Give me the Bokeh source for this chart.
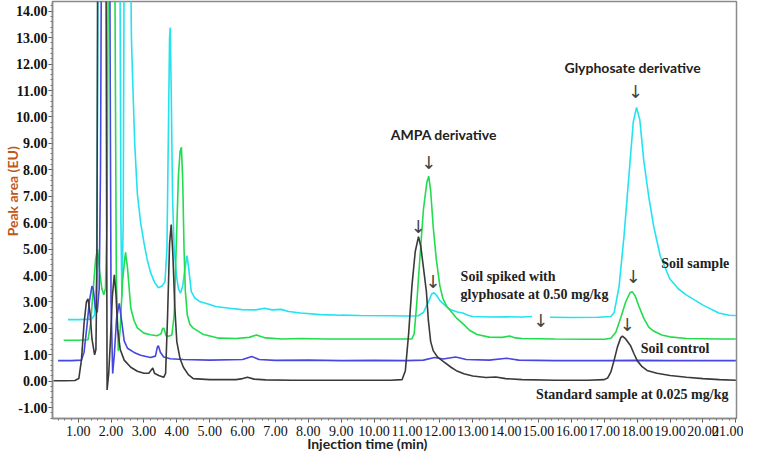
import numpy as np
from bokeh.plotting import figure
from bokeh.models import FixedTicker, Label, Range1d, NumeralTickFormatter
from bokeh.embed import file_html
from bokeh.resources import INLINE

NAN = float("nan")

# ---- Data ----
std_x = [0.25, 0.6, 0.9, 1.02, 1.1, 1.18, 1.25, 1.3, 1.36, 1.42, 1.5, 1.54, 1.57, 1.6, 1.84,
         1.88, 1.93, 1.98, 2.04, 2.1, 2.15, 2.2, 2.28, 2.4, 2.6, 2.8, 3.0, 3.15, 3.22, 3.27, 3.32,
         3.45, 3.6, 3.66, 3.72, 3.78, 3.83, 3.88, 3.94, 4.0, 4.1, 4.2, 4.35, 4.5, 5.0, 5.8, 6.0,
         6.15, 6.35, 6.7, 7.5, 8.5, 9.5, 10.5, 10.85, 10.95, 11.05, 11.15, 11.25, 11.35, 11.42,
         11.5, 11.59, 11.65, 11.72, 11.8, 11.94, 12.1, 12.34, 12.5, 12.73, 13.0, 13.4, 13.7, 14.0,
         14.5, 15.5, 16.5, 17.0, 17.1, 17.2, 17.3, 17.4, 17.5, 17.55, 17.65, 17.8, 17.9, 18.0,
         18.15, 18.3, 18.6, 19.0, 19.5, 20.0, 20.5, 21.0]
std_y = [0.02, 0.02, 0.03, 0.1, 0.8, 2.2, 3.0, 3.12, 2.6, 1.6, 1.0, 1.2, 4.0, 20.0, 20.0,
         -0.33, 0.3, 1.5, 3.2, 4.03, 3.3, 2.0, 1.2, 0.8, 0.53, 0.38, 0.3, 0.3, 0.42, 0.5, 0.3,
         0.22, 0.15, 0.3, 2.5, 5.2, 5.93, 4.8, 2.8, 1.5, 0.85, 0.53, 0.25, 0.1, 0.06, 0.06, 0.1,
         0.15, 0.08, 0.05, 0.04, 0.04, 0.04, 0.04, 0.06, 0.4, 1.8, 3.6, 4.9, 5.47, 5.1,
         4.3, 3.39, 2.3, 1.5, 1.15, 0.9, 0.75, 0.53, 0.4, 0.28, 0.2, 0.14, 0.16, 0.1,
         0.06, 0.04, 0.04, 0.06, 0.12, 0.35, 0.8, 1.3, 1.65, 1.71, 1.6, 1.34, 1.05, 0.78,
         0.55, 0.41, 0.3, 0.22, 0.15, 0.1, 0.06, 0.04]

ctrl_x = [0.39, 0.8, 1.1, 1.18, 1.26, 1.34, 1.42, 1.46, 1.52, 1.58, 1.64, 1.68, 1.72, 1.95,
          2.0, 2.05, 2.1, 2.17, 2.25, 2.32, 2.4, 2.5, 2.7, 2.9, 3.2, 3.35, 3.41, 3.44, 3.5, 3.6,
          3.8, 4.2, 5.0, 6.0, 6.28, 6.5, 7.0, 8.0, 9.0, 10.0, 11.0, 11.5, 11.84, 12.1, 12.48,
          12.8, 13.5, 14.03, 14.4, 15.5, 17.0, 18.0, 19.0, 21.0]
ctrl_y = [0.78, 0.78, 0.8, 1.1, 2.0, 3.0, 3.6, 3.5, 2.8, 2.6, 3.5, 8.0, 20.0, 20.0,
          3.0, 0.29, 1.0, 2.4, 2.95, 2.3, 1.53, 1.25, 1.09, 0.98, 0.9, 0.95, 1.3, 1.34, 1.1, 0.92,
          0.85, 0.82, 0.8, 0.82, 0.94, 0.82, 0.79, 0.8, 0.78, 0.79, 0.78, 0.8, 0.9, 0.84, 0.92,
          0.82, 0.8, 0.87, 0.8, 0.78, 0.78, 0.79, 0.78, 0.78]

spk_x = [0.56, 1.0, 1.3, 1.38, 1.46, 1.53, 1.59, 1.65, 1.72, 1.78, 1.83, 1.88, 1.93, 2.1,
         2.16, 2.22, 2.28, 2.35, 2.44, 2.5, 2.6, 2.7, 2.8, 3.0, 3.2, 3.4, 3.52, 3.57, 3.61,
         3.67, 3.75, 3.85, 3.92, 3.98, 4.05, 4.1, 4.14, 4.18, 4.22, 4.26, 4.32, 4.4, 4.49, 4.79,
         5.28, 5.8, 6.2, 6.42, 6.7, 7.2, 7.8, 8.5, 9.5, 10.5, 11.15, 11.22, 11.3, 11.4, 11.5,
         11.6, 11.66, 11.72, 11.8, 11.89, 12.0, 12.09, 12.2, 12.34, 12.5, 12.73, 12.9, 13.13,
         13.5, 13.9, 14.12, 14.3, 14.5, 15.5, 16.5, 17.0, 17.2, 17.35, 17.5, 17.65, 17.78,
         17.85, 17.95, 18.05, 18.2, 18.35, 18.5, 18.75, 18.99, 19.5, 20.5, 21.0]
spk_y = [1.55, 1.55, 1.57, 2.2, 3.5, 4.6, 5.0, 4.2, 3.5, 3.27, 3.5, 6.0, 20.0, 20.0,
         4.0, 1.15, 2.0, 3.8, 4.88, 4.3, 2.77, 2.3, 2.02, 1.82, 1.76, 1.72, 1.8, 2.0, 2.0,
         1.72, 1.7, 1.75, 2.5, 5.0, 7.8, 8.7, 8.85, 7.6, 5.0, 3.4, 2.5, 2.15, 2.02, 1.78,
         1.63, 1.62, 1.66, 1.75, 1.64, 1.6, 1.62, 1.6, 1.6, 1.6, 1.6, 1.8, 3.0, 4.8, 6.5,
         7.5, 7.76, 7.2, 5.8, 4.63, 3.6, 3.14, 2.85, 2.64, 2.4, 2.14, 1.93, 1.77,
         1.67, 1.66, 1.71, 1.64, 1.62, 1.6, 1.59, 1.59, 1.63, 1.85, 2.4, 3.0, 3.35,
         3.39, 3.2, 2.85, 2.39, 2.05, 1.9, 1.75, 1.68, 1.62, 1.6, 1.6]

soil_x = [0.69, 1.0, 1.4, 1.5, 1.56, 1.58, 1.62, 2.26, 2.3, 2.33, 2.37, 2.41, 2.56, 2.62,
          2.65, 2.72, 2.8, 2.9, 3.0, 3.1, 3.2, 3.32, 3.44, 3.55, 3.64, 3.7, 3.75, 3.78, 3.8,
          3.83, 3.87, 3.92, 3.99, 4.05, 4.11, 4.18, 4.24, 4.31, 4.36, 4.44, 4.55, 4.69, 5.0,
          5.18, 5.6, 5.98, 6.4, 6.67, 6.9, 7.17, 7.4, 7.77, 8.36, 9.0, 9.55, 10.5, 11.0,
          11.34, 11.5, 11.65, 11.75, 11.82, 11.9, 12.0, 12.14, 12.3, 12.53, 12.7, 12.85, 13.0,
          13.5, 14.0, 14.5, 14.8, 14.81, 15.35, 16.0, 16.8, 17.2, 17.3, 17.45, 17.6, 17.75,
          17.88, 17.98, 18.08, 18.2, 18.35, 18.5, 18.7, 18.99, 19.25, 19.49, 19.99, 20.48,
          20.8, 21.0]
soil_y = [2.33, 2.33, 2.35, 2.5, 4.0, 8.0, 20.0, 20.0, 6.0, 3.2, 6.0, 20.0, 20.0, 13.0,
          11.7, 9.0, 7.1, 6.0, 5.25, 4.6, 4.13, 3.75, 3.54, 3.6, 3.76, 5.0, 10.0, 13.0, 13.38,
          11.0, 7.0, 5.0, 4.0, 3.5, 3.33, 3.6, 4.2, 4.75, 4.3, 3.39, 3.15, 3.02, 2.9,
          2.83, 2.76, 2.71, 2.7, 2.76, 2.7, 2.72, 2.64, 2.58, 2.52, 2.5, 2.49, 2.48, 2.47,
          2.48, 2.6, 3.0, 3.3, 3.35, 3.25, 3.05, 2.89, 2.72, 2.62, 2.58, 2.5, 2.45,
          2.43, 2.44, 2.43, 2.45, NAN, 2.42, 2.41, 2.42, 2.45, 2.6, 3.6, 5.5, 7.8,
          9.8, 10.36, 9.9, 8.35, 7.0, 5.87, 4.75, 3.88, 3.5, 3.27, 2.89, 2.58,
          2.5, 2.49]

x_ticks = [1, 2, 3, 4, 5, 6, 7, 8, 9, 10, 11, 12, 13, 14, 15, 16, 17, 18, 19, 20, 21]
y_ticks = [-1, 0, 1, 2, 3, 4, 5, 6, 7, 8, 9, 10, 11, 12, 13, 14]

x_title = "Injection time (min)"
y_title = "Peak area (EU)"

ann_texts = ["Soil sample", "Soil spiked with", "glyphosate at 0.50 mg/kg", "Soil control",
             "Standard sample at 0.025 mg/kg"]
ann_x = [18.73, 12.63, 12.63, 18.11, 14.92]
ann_y = [4.47, 3.95, 3.3, 1.25, -0.52]

peak_texts = ["AMPA derivative", "Glyphosate derivative"]
peak_x = [12.12, 17.86]
peak_y = [9.34, 11.86]

arrow_x = [11.66, 11.34, 11.79, 15.07, 17.95, 17.88, 17.7]
arrow_y = [8.29, 5.87, 3.76, 2.3, 10.96, 3.95, 2.15]

# ---- Figure ----
p = figure(width=743, height=454, output_backend="svg", toolbar_location=None,
           x_range=Range1d(0.22, 21.02), y_range=Range1d(-1.41, 14.37),
           min_border_left=30, min_border_right=7, min_border_top=1, min_border_bottom=20)
p.grid.visible = False
p.outline_line_color = "#8a8a8a"
p.outline_line_width = 1.5
p.background_fill_color = "white"
p.border_fill_color = "white"

lw = 1.6
p.line(soil_x, soil_y, line_color="#22e3ef", line_width=lw)
p.line(spk_x, spk_y, line_color="#22dc4e", line_width=lw)
p.line(ctrl_x, ctrl_y, line_color="#4646e0", line_width=lw)
p.line(std_x, std_y, line_color="#3a3a3a", line_width=lw)

serif = "Liberation Serif"
sans = "Lato"

p.xaxis.ticker = FixedTicker(ticks=x_ticks, minor_ticks=list(np.round(np.arange(0.2, 21.01, 0.2), 2)))
p.yaxis.ticker = FixedTicker(ticks=y_ticks, minor_ticks=list(np.round(np.arange(-1.4, 14.4, 0.2), 2)))
for ax in (p.xaxis, p.yaxis):
    ax.formatter = NumeralTickFormatter(format="0.00")
    ax.axis_line_color = "#8a8a8a"
    ax.axis_line_width = 1.5
    ax.major_tick_line_color = "#555555"
    ax.minor_tick_line_color = "#777777"
    ax.major_tick_in = 0
    ax.major_tick_out = 4
    ax.minor_tick_in = 0
    ax.minor_tick_out = 2
    ax.major_label_text_font = serif
    ax.major_label_text_color = "#111111"
    ax.axis_label_text_font = sans
    ax.axis_label_text_font_style = "bold"
    ax.axis_label_text_font_size = "14px"

NBSP = "\u00a0"
p.xaxis.major_label_text_font_size = "14px"
p.xaxis.major_label_standoff = 3
# trailing no-break spaces shift the centred title to the left, as in the original
p.xaxis.axis_label = x_title + NBSP * 16
p.xaxis.axis_label_text_color = "#222222"
p.xaxis.axis_label_standoff = -4

p.yaxis.major_label_text_font_size = "14px"
p.yaxis.major_label_text_font_style = "bold"
p.yaxis.major_label_standoff = 1
# leading no-break spaces shift the rotated title upwards
p.yaxis.axis_label = NBSP * 11 + y_title
p.yaxis.axis_label_text_color = "#c0571a"
p.yaxis.axis_label_standoff = -8

for t, x, y in zip(ann_texts, ann_x, ann_y):
    p.add_layout(Label(x=x, y=y, text=t, text_align="left", text_baseline="middle",
                       text_font=serif, text_font_style="bold", text_font_size="14px",
                       text_color="#222222"))
for t, x, y in zip(peak_texts, peak_x, peak_y):
    p.add_layout(Label(x=x, y=y, text=t, text_align="center", text_baseline="middle",
                       text_font=sans, text_font_style="bold", text_font_size="14px",
                       text_color="#222222"))
for x, y in zip(arrow_x, arrow_y):
    p.add_layout(Label(x=x, y=y, text="\u2193", text_align="center", text_baseline="middle",
                       text_font="DejaVu Sans", text_font_size="18px", text_color="#444444"))

open("out.html", "w").write(file_html(p, INLINE))
